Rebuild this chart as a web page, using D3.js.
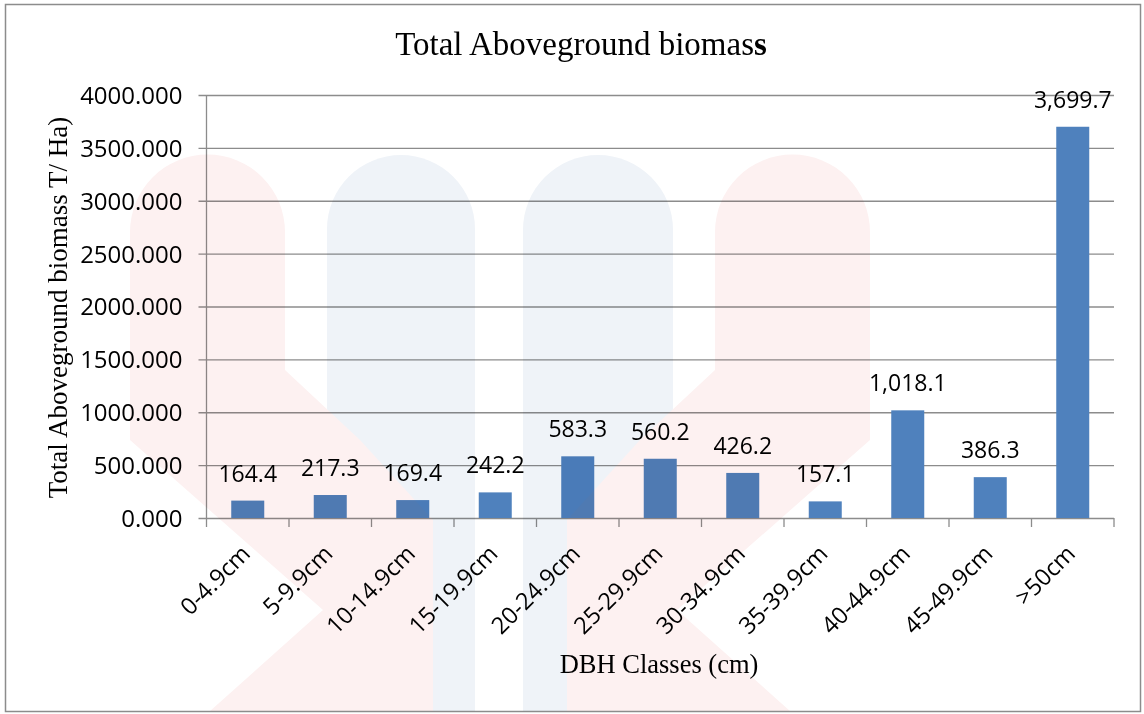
<!DOCTYPE html>
<html>
<head>
<meta charset="utf-8">
<script src="https://cdn.jsdelivr.net/npm/d3@7"></script>
<style>
  body { margin: 0; background: #fff; }
  .grid line { stroke: #8c8c8c; stroke-width: 1.3; }
  .axis path, .axis line { stroke: #8c8c8c; stroke-width: 1.3; }
  .tick-label { font-family: "Open Sans", sans-serif; font-size: 24px; fill: #000; }
  .cat-label { font-family: "Open Sans", sans-serif; font-size: 23.5px; fill: #000; }
  .val-label { font-family: "Open Sans", sans-serif; font-size: 23px; fill: #000; }
  .serif { font-family: "Liberation Serif", "Times New Roman", serif; fill: #000; }
</style>
</head>
<body>
<div id="chart"></div>
<script>

// chart data
var categories = ["0-4.9cm", "5-9.9cm", "10-14.9cm", "15-19.9cm", "20-24.9cm", "25-29.9cm",
                  "30-34.9cm", "35-39.9cm", "40-44.9cm", "45-49.9cm", ">50cm"];
var biomass = [164.4, 217.3, 169.4, 242.2, 583.3, 560.2, 426.2, 157.1, 1018.1, 386.3, 3699.7];
var yTicks = [0, 500, 1000, 1500, 2000, 2500, 3000, 3500, 4000];

window.onload = function(){
  makeBarChart()
};

function makeBarChart(){
  var outerWidth = 1144,
      outerHeight = 714,
      plot = {left: 206.5, right: 1114, top: 95, bottom: 518};

  var svg = d3.select("#chart").append("svg")
      .attr("width", outerWidth)
      .attr("height", outerHeight);

  // outer frame
  svg.append("rect")
      .attr("x", 5.5)
      .attr("y", 4.5)
      .attr("width", 1135)
      .attr("height", 707)
      .attr("fill", "#fff")
      .attr("stroke", "#8c8c8c")
      .attr("stroke-width", 1.5);

  var x = d3.scaleBand()
      .domain(categories)
      .range([plot.left, plot.right])
      .paddingInner(0.6)
      .paddingOuter(0.3);

  var y = d3.scaleLinear()
      .domain([0, 4000])
      .range([plot.bottom, plot.top]);

  // horizontal gridlines + y axis
  var yAxis = d3.axisLeft(y)
      .tickValues(yTicks)
      .tickSize(plot.right - plot.left + 8)
      .tickFormat(d3.format(".3f"));

  var gy = svg.append("g")
      .attr("class", "grid")
      .attr("transform", "translate(" + plot.right + ",0)")
      .call(yAxis);
  gy.select(".domain").remove();
  gy.selectAll("text")
      .attr("class", "tick-label")
      .attr("x", -(plot.right - plot.left) - 24)
      .attr("dy", "0.35em");
  gy.attr("font-size", null).attr("font-family", null);

  // vertical axis line
  svg.append("line")
      .attr("x1", plot.left).attr("x2", plot.left)
      .attr("y1", plot.top).attr("y2", plot.bottom)
      .attr("stroke", "#8c8c8c")
      .attr("stroke-width", 1.3);

  // x axis ticks at category boundaries
  var step = x.step();
  var boundaries = d3.range(categories.length + 1);
  svg.append("g")
      .attr("class", "axis")
    .selectAll("line")
    .data(boundaries)
    .join("line")
      .attr("x1", function(i){ return plot.left + i * step; })
      .attr("x2", function(i){ return plot.left + i * step; })
      .attr("y1", plot.bottom)
      .attr("y2", plot.bottom + 9);

  // bars
  svg.append("g")
    .selectAll("rect")
    .data(biomass)
    .join("rect")
      .attr("x", function(d, i){ return x(categories[i]); })
      .attr("y", function(d){ return y(d); })
      .attr("width", x.bandwidth())
      .attr("height", function(d){ return plot.bottom - y(d); })
      .attr("fill", "#4f81bd");

  // value labels
  var fmt = d3.format(",.1f");
  svg.append("g")
    .selectAll("text")
    .data(biomass)
    .join("text")
      .attr("class", "val-label")
      .attr("text-anchor", "middle")
      .attr("x", function(d, i){ return x(categories[i]) + x.bandwidth() / 2; })
      .attr("y", function(d){ return y(d) - 19; })
      .text(function(d){ return fmt(d); });

  // category labels, rotated
  svg.append("g")
    .selectAll("text")
    .data(categories)
    .join("text")
      .attr("class", "cat-label")
      .attr("text-anchor", "end")
      .attr("transform", function(d){
        var cx = x(d) + x.bandwidth() / 2 + 4;
        return "translate(" + cx + "," + (plot.bottom + 37) + ") rotate(-45)";
      })
      .text(function(d){ return d; });

  // title
  var title = svg.append("text")
      .attr("class", "serif")
      .attr("x", 581)
      .attr("y", 55)
      .attr("text-anchor", "middle")
      .style("font-size", "33px")
      .text("Total Aboveground bioma");
  title.append("tspan").text("s");
  title.append("tspan").style("font-weight", "bold").text("s");

  // axis titles
  svg.append("text")
      .attr("class", "serif")
      .attr("transform", "translate(67," + ((plot.top + plot.bottom) / 2 + 1) + ") rotate(-90)")
      .attr("text-anchor", "middle")
      .style("font-size", "27px")
      .text("Total Aboveground biomass T/ Ha)");

  svg.append("text")
      .attr("class", "serif")
      .attr("x", 659)
      .attr("y", 673)
      .attr("text-anchor", "middle")
      .style("font-size", "26.5px")
      .text("DBH Classes (cm)");

  // faint watermark laid over the page
  var wm = svg.append("g")
      .style("mix-blend-mode", "multiply")
      .style("pointer-events", "none");
  wm.append("clipPath").attr("id", "frame")
    .append("rect").attr("x", 6).attr("y", 5).attr("width", 1134).attr("height", 706);
  var wg = wm.append("g").attr("clip-path", "url(#frame)");
  [[327, 475], [523, 673]].forEach(function(c){
    var r = (c[1] - c[0]) / 2;
    wg.append("path")
        .attr("d", "M" + c[0] + ",720 L" + c[0] + "," + (155 + r) +
                   " A" + r + "," + r + " 0 0 1 " + c[1] + "," + (155 + r) +
                   " L" + c[1] + ",720 Z")
        .attr("fill", "#eff3f8");
  });
  wg.append("path")
      .attr("d", "M130,232 A77.5,77.5 0 0 1 285,232 L285,370 L360,440 L433,520 L433,720 L200,720 L323,610 L130,440 Z")
      .attr("fill", "#fdf1f1");
  wg.append("path")
      .attr("d", "M715,232 A77.5,77.5 0 0 1 870,232 L870,440 L677,610 L800,720 L567,720 L567,520 L640,440 L715,370 Z")
      .attr("fill", "#fdf1f1");
};
</script>
</body>
</html>
